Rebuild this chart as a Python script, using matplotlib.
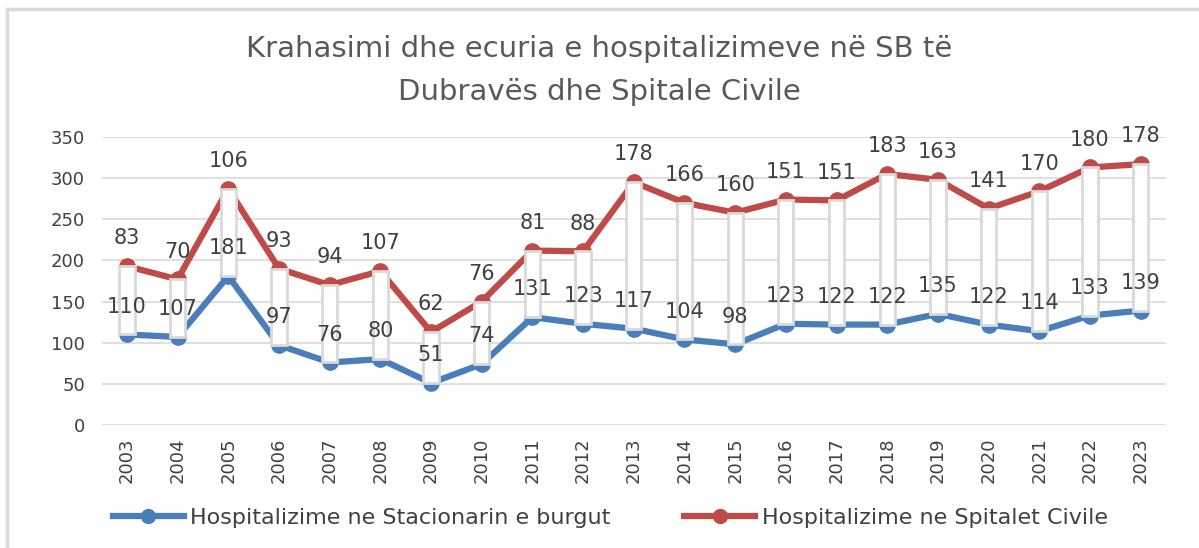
import numpy as np
import matplotlib.pyplot as plt
from matplotlib.lines import Line2D

# vitet dhe vlerat
years = [str(y) for y in range(2003, 2024)]
burgu = np.array([110, 107, 181, 97, 76, 80, 51, 74, 131, 123, 117,
                  104, 98, 123, 122, 122, 135, 122, 114, 133, 139])
civile = np.array([83, 70, 106, 93, 94, 107, 62, 76, 81, 88, 178,
                   166, 160, 151, 151, 183, 163, 141, 170, 180, 178])

blue = '#4a7ebb'
red = '#be4b48'
grey_txt = '#404040'

fig = plt.figure(figsize=(11.99, 5.48), dpi=100)
ax = fig.add_axes([0.0847, 0.2245, 0.8878, 0.5255])

x = np.arange(len(years))
total = burgu + civile

# linjat (e kuqja eshte e grumbulluar mbi te kalterten)
ax.plot(x, burgu, color=blue, lw=4.5, marker='o', ms=11, zorder=2,
        label='Hospitalizime ne Stacionarin e burgut')
ax.plot(x, total, color=red, lw=4.5, marker='o', ms=11, zorder=2,
        label='Hospitalizime ne Spitalet Civile')

# shiritat lart/poshte
ax.bar(x, civile, bottom=burgu, width=0.3, facecolor='white',
       edgecolor='#d9d9d9', linewidth=2, zorder=3)

# etiketat
for i in range(len(x)):
    ax.annotate(str(burgu[i]), (x[i], burgu[i]), xytext=(0, 20),
                textcoords='offset points', ha='center', va='center',
                fontsize=15, color=grey_txt, zorder=5)
    ax.annotate(str(civile[i]), (x[i], total[i]), xytext=(0, 20),
                textcoords='offset points', ha='center', va='center',
                fontsize=15, color=grey_txt, zorder=5)

ax.set_xlim(-0.5, len(x) - 0.5)
ax.set_ylim(0, 350)
ax.set_yticks(range(0, 351, 50))
ax.set_xticks(x)
ax.set_xticklabels(years, rotation=90)
ax.tick_params(axis='both', length=0, colors=grey_txt, labelsize=13)
ax.tick_params(axis='y', pad=12)
ax.tick_params(axis='x', pad=9)
ax.grid(axis='y', color='#d9d9d9', lw=1.2, zorder=0)
for s in ax.spines.values():
    s.set_visible(False)
ax.set_axisbelow(True)

fig.text(0.5, 0.91, 'Krahasimi dhe ecuria e hospitalizimeve në SB të',
         ha='center', va='center', fontsize=21, color='#595959')
fig.text(0.5, 0.833, 'Dubravës dhe Spitale Civile',
         ha='center', va='center', fontsize=21, color='#595959')

handles, labels = ax.get_legend_handles_labels()
handles = [Line2D([], [], color=h.get_color(), lw=4.5, marker='o', ms=10)
           for h in handles]
fig.legend(handles, labels, loc='center', bbox_to_anchor=(0.509, 0.055), ncol=2,
           frameon=False, fontsize=16, labelcolor=grey_txt,
           handlelength=3.2, columnspacing=3.3, handletextpad=0.3)

# kornizat e sipërme dhe e majtë
fig.add_artist(Line2D([0.006, 1.0], [0.984, 0.984], transform=fig.transFigure,
                      color='#d9d9d9', lw=2.5))
fig.add_artist(Line2D([0.006, 0.006], [0.0, 0.984], transform=fig.transFigure,
                      color='#d9d9d9', lw=2.5))

fig.savefig('out.png', dpi=100)
